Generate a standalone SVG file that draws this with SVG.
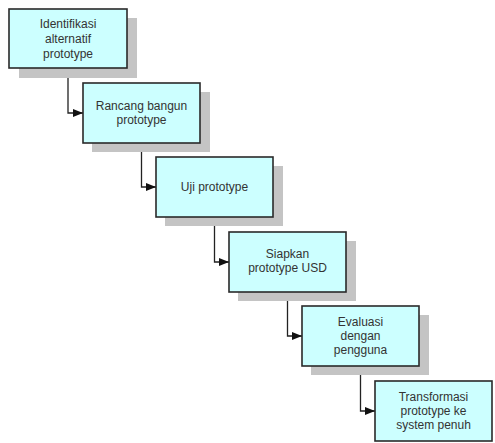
<svg xmlns="http://www.w3.org/2000/svg" width="495" height="443" viewBox="0 0 495 443">
<style>
.sh{fill:#c4c4c4}
.bx{fill:#ccffff;stroke:#2a2a2a;stroke-width:1.6}
.t{font-family:"Liberation Sans",Arial,sans-serif;font-size:12px;fill:#333;text-anchor:middle}
.c{fill:none;stroke:#222;stroke-width:1.3}
</style>
<defs>
<marker id="ah" markerWidth="10" markerHeight="8" refX="10" refY="4" orient="auto" markerUnits="userSpaceOnUse">
<path d="M0,0 L10,4 L0,8 Z" fill="#111"/>
</marker>
</defs>
<rect width="495" height="443" fill="#fff"/>
<g id="connectors">
<path class="c" d="M68,68 V113 H83" marker-end="url(#ah)"/>
<path class="c" d="M141.5,143 V187 H156" marker-end="url(#ah)"/>
<path class="c" d="M214.5,217 V262 H229" marker-end="url(#ah)"/>
<path class="c" d="M287.5,292 V336 H302" marker-end="url(#ah)"/>
<path class="c" d="M360.5,366 V411 H375" marker-end="url(#ah)"/>
</g>
<g id="n1">
<rect class="sh" x="19" y="18" width="118" height="60"/>
<rect class="bx" x="9" y="9" width="118" height="59"/>
<text class="t" x="68" y="28">Identifikasi</text>
<text class="t" x="68" y="43">alternatif</text>
<text class="t" x="68" y="58">prototype</text>
</g>
<g id="n2">
<rect class="sh" x="92" y="92" width="118" height="60"/>
<rect class="bx" x="83" y="83" width="117" height="60"/>
<text class="t" x="141.5" y="110">Rancang bangun</text>
<text class="t" x="141.5" y="124">prototype</text>
</g>
<g id="n3">
<rect class="sh" x="165" y="166" width="118" height="60"/>
<rect class="bx" x="156" y="157" width="117" height="60"/>
<text class="t" x="214.5" y="191">Uji prototype</text>
</g>
<g id="n4">
<rect class="sh" x="238" y="241" width="118" height="60"/>
<rect class="bx" x="229" y="232" width="117" height="60"/>
<text class="t" x="287.5" y="258">Siapkan</text>
<text class="t" x="287.5" y="272">prototype USD</text>
</g>
<g id="n5">
<rect class="sh" x="311" y="315" width="118" height="60"/>
<rect class="bx" x="302" y="306" width="117" height="60"/>
<text class="t" x="360.5" y="326">Evaluasi</text>
<text class="t" x="360.5" y="340">dengan</text>
<text class="t" x="360.5" y="354">pengguna</text>
</g>
<g id="n6">
<rect class="bx" x="375" y="381" width="117" height="60"/>
<text class="t" x="433.5" y="401">Transformasi</text>
<text class="t" x="433.5" y="415">prototype ke</text>
<text class="t" x="433.5" y="429">system penuh</text>
</g>
</svg>
